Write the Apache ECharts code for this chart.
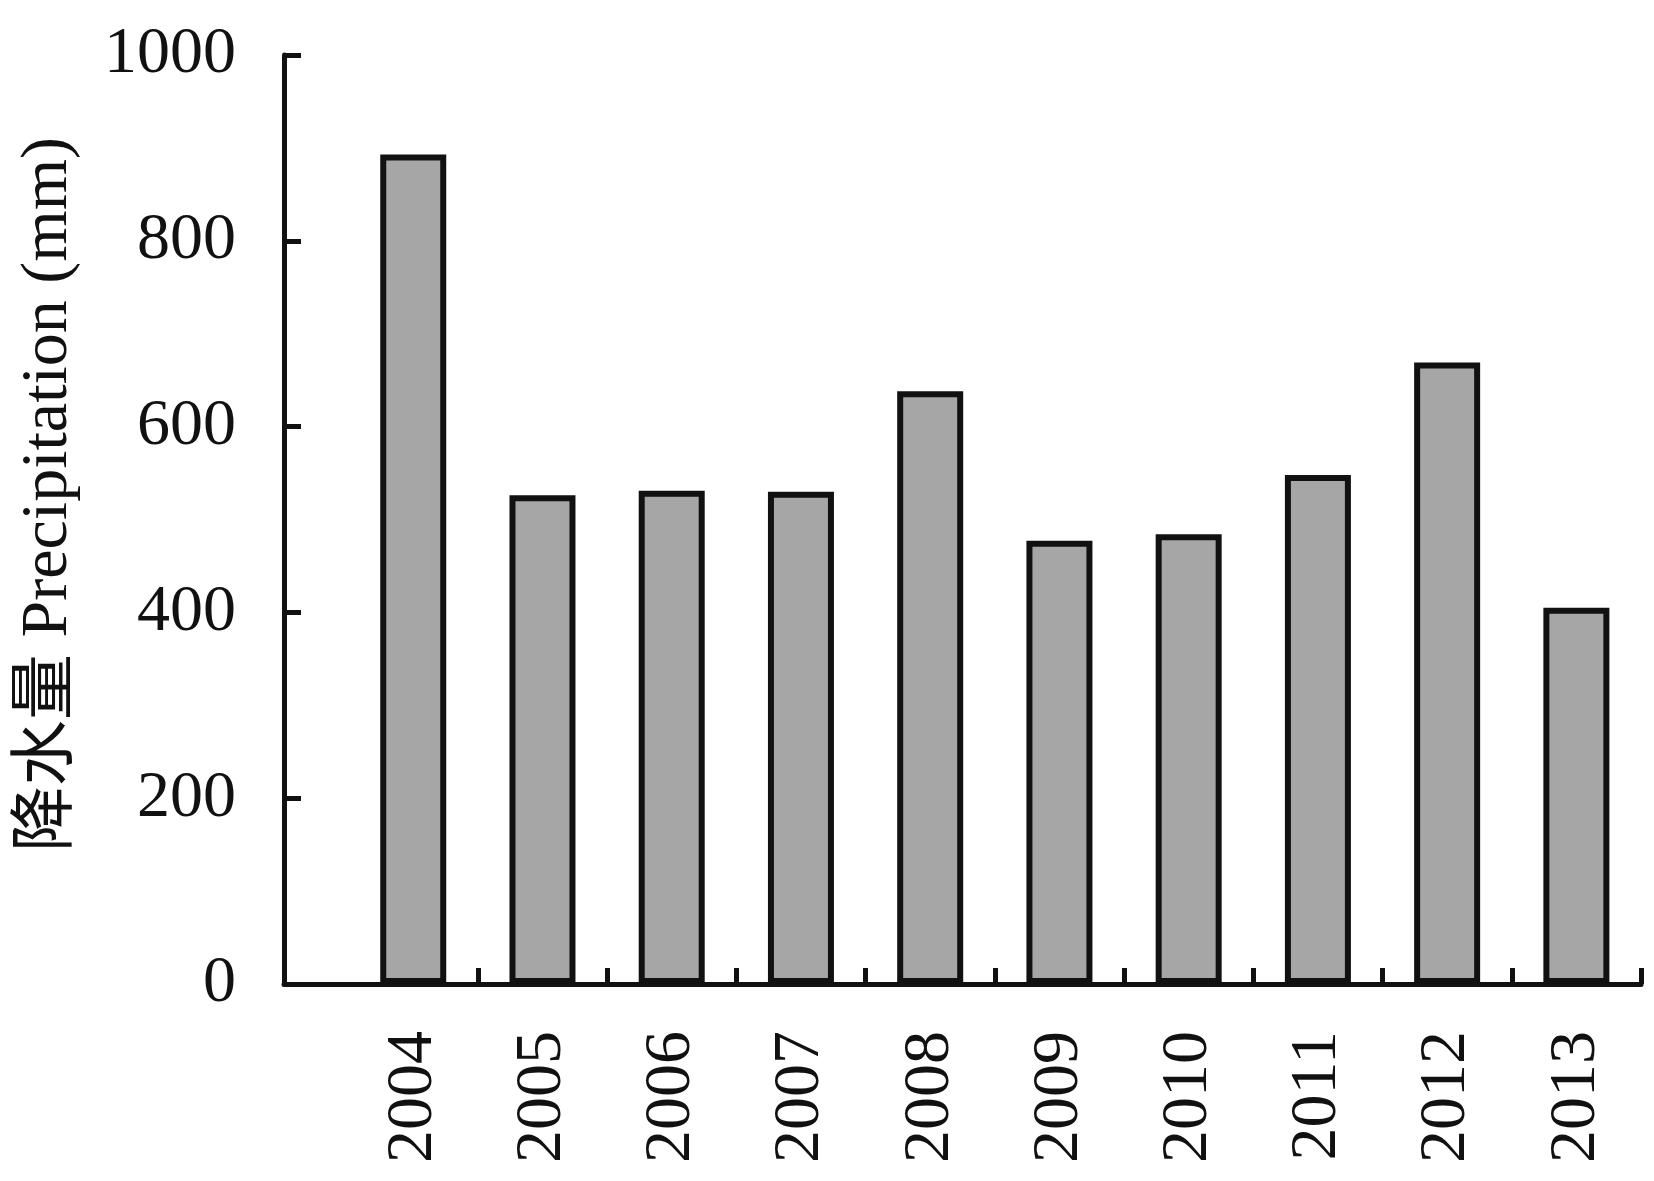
<!DOCTYPE html>
<html style="height: 100%">
<head>
  <meta charset="utf-8">
  <script src="https://cdn.jsdelivr.net/npm/echarts@6/dist/echarts.min.js"></script>
</head>
<body style="height: 100%; margin: 0; background: #fff">
  <div id="container" style="width: 1654px; height: 1181px"></div>
  <script type="text/javascript">
    // data
    var years = ['2004', '2005', '2006', '2007', '2008', '2009', '2010', '2011', '2012', '2013'];
    var precipitation = [893, 526, 531, 530, 638, 477, 484, 548, 669, 405];
    var yTicks = { min: 0, max: 1000, interval: 200 };
    var yTitle = '降水量 Precipitation (mm)';

    var ink = '#111';
    var serif = "'Liberation Serif', 'Times New Roman', 'Noto Sans CJK SC', serif";

    // plot frame: y axis at x=284, last band ends at x=1641;
    // bars start half a band right of the y axis
    var frameLeft = 284, frameRight = 1641;
    var band = (frameRight - frameLeft) / (years.length + 0.5);
    var barsLeft = frameLeft + band / 2;
    // band boundaries in frame units (category i centred on i)
    var boundaries = years.map(function (y, i) { return i + 0.5; });

    var dom = document.getElementById('container');
    var myChart = echarts.init(dom, null, { renderer: 'canvas' });

    var option = {
      animation: false,
      backgroundColor: '#fff',
      grid: [
        { left: barsLeft, right: 1654 - frameRight, top: 55, bottom: 197 },
        { left: frameLeft, right: 1654 - frameRight, top: 55, bottom: 197 }
      ],
      xAxis: [
        {
          type: 'category',
          gridIndex: 0,
          data: years,
          boundaryGap: true,
          axisLine: { show: false },
          axisTick: { show: false },
          axisLabel: {
            interval: 0,
            rotate: 90,
            margin: 47,
            color: ink,
            fontFamily: serif,
            fontSize: 66
          }
        },
        {
          type: 'value',
          gridIndex: 1,
          min: -1,
          max: years.length - 0.5,
          axisLine: { show: true, onZero: false, lineStyle: { color: ink, width: 5 } },
          axisTick: {
            show: true,
            inside: true,
            length: 16,
            customValues: boundaries,
            lineStyle: { color: ink, width: 5 }
          },
          axisLabel: { show: false },
          splitLine: { show: false }
        }
      ],
      yAxis: [
        {
          type: 'value',
          gridIndex: 0,
          min: yTicks.min,
          max: yTicks.max,
          interval: yTicks.interval,
          show: false
        },
        {
          type: 'value',
          gridIndex: 1,
          min: yTicks.min,
          max: yTicks.max,
          interval: yTicks.interval,
          name: yTitle,
          nameLocation: 'middle',
          nameRotate: 90,
          nameGap: 202,
          nameTextStyle: {
            color: ink,
            fontFamily: serif,
            fontSize: 66,
            padding: [0, 0, 0, 50]
          },
          axisLine: { show: true, onZero: false, lineStyle: { color: ink, width: 5 } },
          axisTick: { inside: true, length: 17, lineStyle: { color: ink, width: 5 } },
          axisLabel: {
            margin: 48,
            color: ink,
            fontFamily: serif,
            fontSize: 66,
            padding: [0, 0, 14, 0],
            formatter: function (v) { return String(v); }
          },
          splitLine: { show: false }
        }
      ],
      series: [
        {
          type: 'bar',
          xAxisIndex: 0,
          yAxisIndex: 0,
          data: precipitation,
          barWidth: 66,
          itemStyle: { color: '#a6a6a6', borderColor: ink, borderWidth: 6 }
        }
      ]
    };

    myChart.setOption(option);
    window.addEventListener('resize', myChart.resize);
  </script>
</body>
</html>
